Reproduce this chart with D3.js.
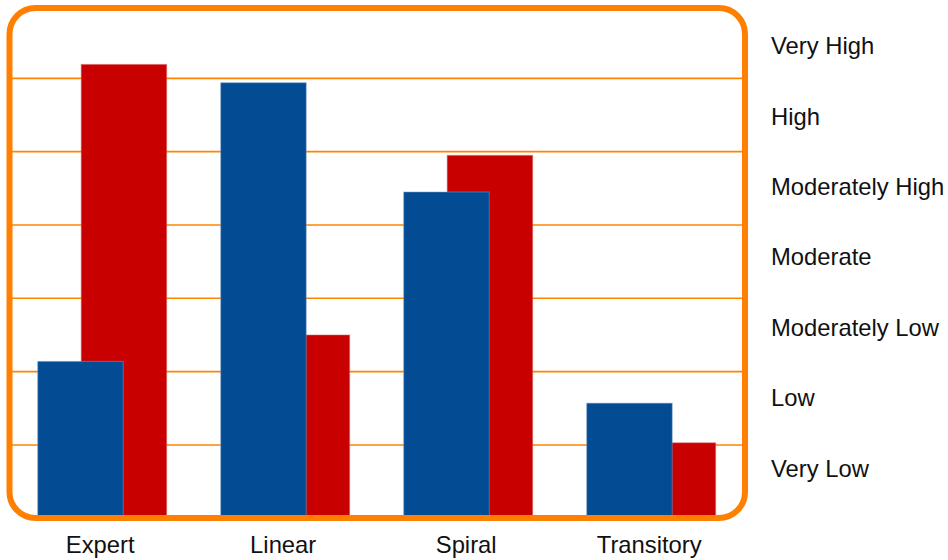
<!DOCTYPE html>
<html>
<head>
<meta charset="utf-8">
<script src="https://cdn.jsdelivr.net/npm/d3@7"></script>
<style>
  html, body { margin: 0; padding: 0; background: #fff; }
  svg { display: block; }
  text { font-family: "Liberation Sans", Arial, sans-serif; fill: #111; }
</style>
</head>
<body>
<svg id="chart" width="948" height="560"></svg>
<script>
// Learning styles and their rated levels (0 = bottom of the scale, 7 = top)
const categories = ["Expert", "Linear", "Spiral", "Transitory"];
const seriesA = [2.14, 5.94, 4.45, 1.57];   // blue, front bars
const seriesB = [6.19, 2.50, 4.95, 1.03];   // red, rear bars
const levelLabels = ["Very High", "High", "Moderately High", "Moderate", "Moderately Low", "Low", "Very Low"];
const gridValues = [1, 2, 3, 4, 5, 6];

const svg = d3.select("#chart");

const plot = { left: 9.5, right: 745, top: 8, bottom: 518 };

const y = d3.scaleLinear().domain([0, 7]).range([518.3, 5]);

const x = d3.scaleBand()
  .domain(categories)
  .range([37.7, 715.7])
  .paddingInner(0.295)
  .paddingOuter(0);

const barW = x.bandwidth() * 0.663;

// horizontal gridlines
svg.append("g")
  .selectAll("line")
  .data(gridValues)
  .join("line")
  .attr("x1", plot.left + 2)
  .attr("x2", plot.right - 2)
  .attr("y1", d => y(d))
  .attr("y2", d => y(d))
  .attr("stroke", "#ff8400")
  .attr("stroke-width", 1.6);

// rear (red) bars, offset to the right within each group
svg.append("g")
  .selectAll("rect")
  .data(categories)
  .join("rect")
  .attr("x", d => x(d) + x.bandwidth() - barW)
  .attr("y", (d, i) => y(seriesB[i]))
  .attr("width", barW)
  .attr("height", (d, i) => y(0) - y(seriesB[i]))
  .attr("fill", "#c80000")
  .attr("stroke", "#e07070")
  .attr("stroke-opacity", 0.5)
  .attr("stroke-width", 1);

// front (blue) bars
svg.append("g")
  .selectAll("rect")
  .data(categories)
  .join("rect")
  .attr("x", d => x(d))
  .attr("y", (d, i) => y(seriesA[i]))
  .attr("width", barW)
  .attr("height", (d, i) => y(0) - y(seriesA[i]))
  .attr("fill", "#034c94")
  .attr("stroke", "#7fa3cc")
  .attr("stroke-opacity", 0.5)
  .attr("stroke-width", 1);

// rounded frame around the plot
svg.append("rect")
  .attr("x", plot.left)
  .attr("y", plot.top)
  .attr("width", plot.right - plot.left)
  .attr("height", plot.bottom - plot.top)
  .attr("rx", 26)
  .attr("ry", 26)
  .attr("fill", "none")
  .attr("stroke", "#ff8000")
  .attr("stroke-width", 6);

// category labels
svg.append("g")
  .selectAll("text")
  .data(categories)
  .join("text")
  .attr("x", d => x(d) + x.bandwidth() / 2 - 2)
  .attr("y", 552.5)
  .attr("text-anchor", "middle")
  .style("font-size", "23.8px")
  .text(d => d);

// level labels on the right
const levelScale = d3.scalePoint().domain(levelLabels).range([46, 468.2]);
svg.append("g")
  .selectAll("text")
  .data(levelLabels)
  .join("text")
  .attr("x", 771)
  .attr("y", d => levelScale(d))
  .attr("dy", "0.35em")
  .style("font-size", "23.8px")
  .text(d => d);
</script>
</body>
</html>
